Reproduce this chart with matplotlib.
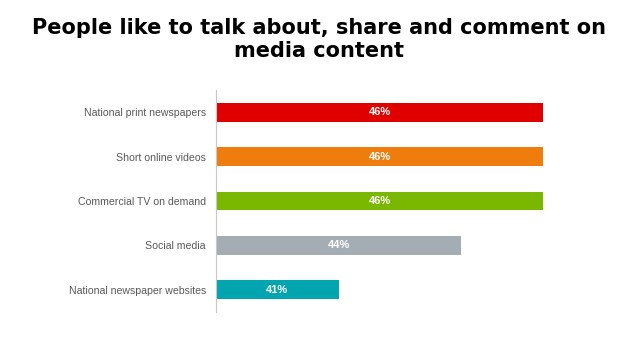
import matplotlib
matplotlib.use("Agg")
import matplotlib.pyplot as plt

categories = ["National print newspapers", "Short online videos", "Commercial TV on demand",
              "Social media", "National newspaper websites"]
values = [46, 46, 46, 44, 41]
value_labels = ["46%", "46%", "46%", "44%", "41%"]
colors = ["#E00000", "#EE7D0E", "#7AB800", "#A5ADB4", "#00A5B0"]

plt.rcParams['font.family'] = ['Liberation Sans', 'DejaVu Sans']

fig = plt.figure(figsize=(6.38, 3.59), dpi=100)
ax = fig.add_axes([0.338, 0.131, 0.61, 0.618])

y = list(range(len(categories)))
xmin = 38
bars = ax.barh(y, [v - xmin for v in values], left=xmin, height=0.42, color=colors)
for b, lab in zip(bars, value_labels):
    cx = b.get_x() + b.get_width() / 2
    ax.text(cx, b.get_y() + b.get_height() / 2, lab, ha='center', va='center',
            color='white', fontsize=8, fontweight='bold')

ax.set_xlim(xmin, 47.5)
ax.set_ylim(len(categories) - 0.5, -0.5)
ax.set_yticks(y)
ax.set_yticklabels(categories, fontsize=7.6, color='#595959')
ax.tick_params(axis='y', length=0, pad=7)
ax.set_xticks([])
for s in ['top', 'right', 'bottom']:
    ax.spines[s].set_visible(False)
ax.spines['left'].set_color('#C8C8C8')
ax.spines['left'].set_linewidth(0.8)

fig.text(0.5, 0.889, "People like to talk about, share and comment on\nmedia content",
         ha='center', va='center', fontsize=15, fontweight='bold', color='black',
         linespacing=1.2, family=['DejaVu Sans'])

fig.savefig("out.png", dpi=100)
